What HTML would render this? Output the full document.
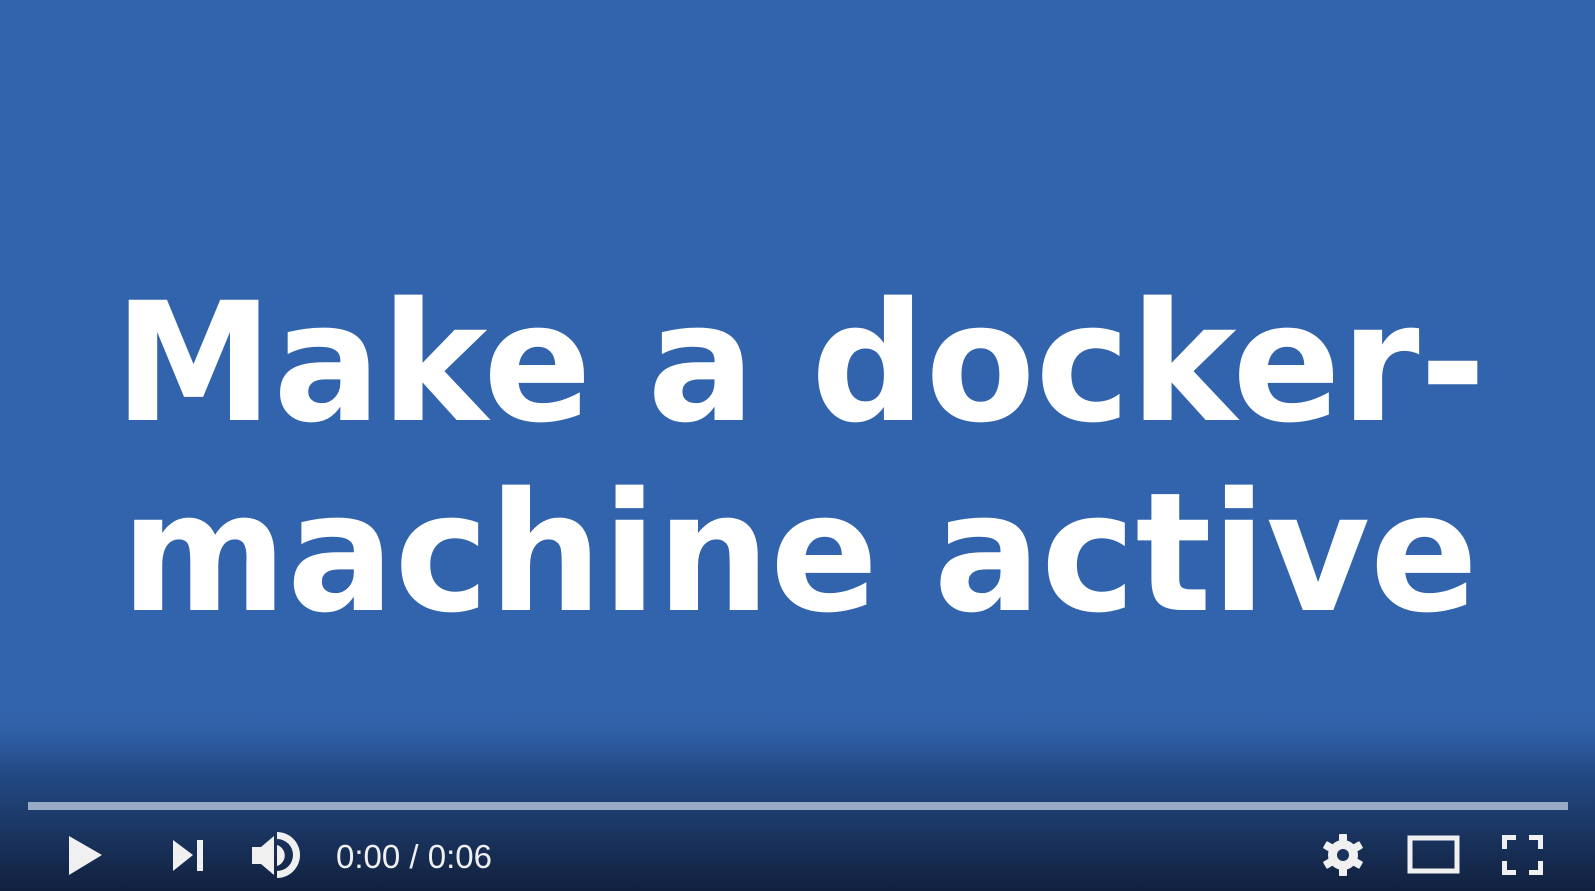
<!DOCTYPE html>
<html><head><meta charset="utf-8"><style>
html,body{margin:0;padding:0;}
body{width:1595px;height:891px;overflow:hidden;background:#11203d;}
svg{display:block;}
</style></head><body>
<svg width="1595" height="891" xmlns="http://www.w3.org/2000/svg">
<defs>
<linearGradient id="g" x1="0" y1="0" x2="0" y2="1">
<stop offset="0" stop-color="#3264ad" stop-opacity="0"/>
<stop offset="0.35" stop-color="#244c88"/>
<stop offset="1" stop-color="#11203d"/>
</linearGradient>
</defs>
<rect width="1595" height="891" fill="#3264ad"/>
<rect y="700" width="1595" height="191" fill="url(#g)"/>
<g font-family="'DejaVu Sans','Liberation Sans',sans-serif" font-weight="bold" font-size="165" fill="#fff">
<text x="114" y="420" textLength="1372" lengthAdjust="spacingAndGlyphs">Make a docker-</text>
<text x="121" y="610" textLength="1357" lengthAdjust="spacingAndGlyphs">machine active</text>
</g>
<rect x="28" y="802" width="1540" height="8" fill="#9aabc6"/>
<g fill="#f0f0f0">
<polygon points="69,836 69,875 102,855"/>
<polygon points="173,840 173,871 193,855"/>
<rect x="197" y="840" width="6" height="31"/>
<polygon points="252,847 261,847 274,836 274,875 261,864 252,864"/>
<path d="M277,845 A11,11 0 0 1 277,866 Z"/>
<path d="M277,832 A23,23 0 0 1 277,878 L277,871 A16,16 0 0 0 277,839 Z"/>
<text x="336" y="868" font-family="'Liberation Sans',sans-serif" font-size="33">0:00 / 0:06</text>
<circle cx="1343" cy="855" r="15"/>
<g transform="translate(1343,855)">
<rect x="-4" y="-21" width="8" height="42" rx="1"/>
<rect x="-4" y="-21" width="8" height="42" rx="1" transform="rotate(60)"/>
<rect x="-4" y="-21" width="8" height="42" rx="1" transform="rotate(120)"/>
</g>
<circle cx="1343" cy="855" r="6" fill="#1a325c"/>
<rect x="1410" y="838" width="47" height="33" fill="none" stroke="#f0f0f0" stroke-width="5"/>
<path d="M1502,835 h14 v5 h-9 v9 h-5 Z M1543,835 h-14 v5 h9 v9 h5 Z M1502,875 h14 v-5 h-9 v-9 h-5 Z M1543,875 h-14 v-5 h9 v-9 h5 Z"/>
</g>
</svg>
</body></html>
